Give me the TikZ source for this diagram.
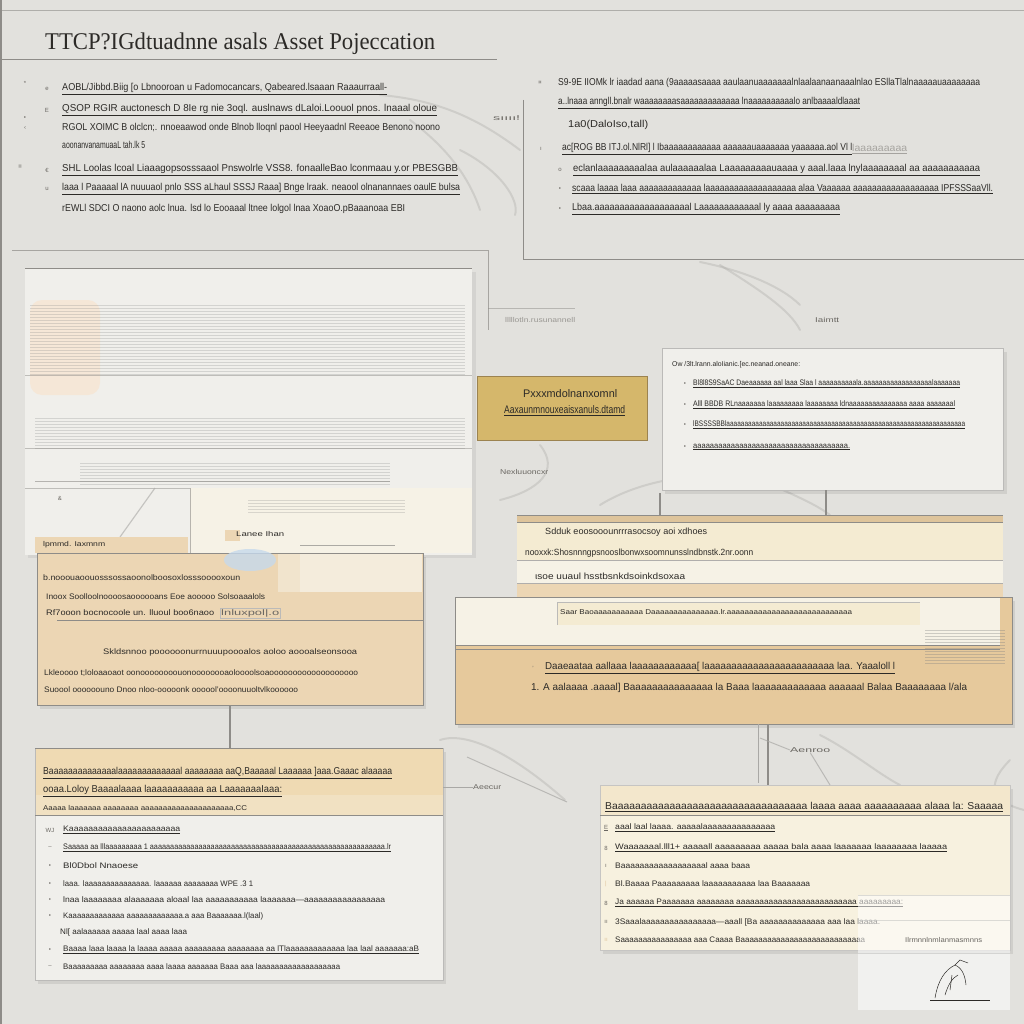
\documentclass[tikz,border=0pt]{standalone}
\usepackage{fontspec}
\setmainfont{Liberation Sans}
\newfontfamily\titlefont{Liberation Serif}
\usepackage{graphicx}
\definecolor{bg}{HTML}{E2E1DD}
\definecolor{ink}{HTML}{2C2A27}
\definecolor{inkl}{HTML}{6A6762}
\definecolor{frame}{HTML}{8E8C88}
\definecolor{panel}{HTML}{F0EFEB}
\definecolor{tanA}{HTML}{ECD6B4}
\definecolor{tanB}{HTML}{E6C99C}
\definecolor{tanC}{HTML}{DEC49B}
\definecolor{tanH}{HTML}{EFDAB3}
\definecolor{gold}{HTML}{D5B76B}
\definecolor{goldline}{HTML}{9C8350}
\definecolor{cream}{HTML}{F4EBD2}
\definecolor{creamB}{HTML}{F6F2E6}
\definecolor{swoosh}{HTML}{A9A8A5}
\definecolor{skyb}{HTML}{C6D9EC}
\newcommand\fitw[2]{\resizebox{#1pt}{\height}{#2}}
\tikzset{
  txt/.style={anchor=west,inner sep=0,font=\fontsize{10}{11}\selectfont,text=ink},
  ltxt/.style={anchor=west,inner sep=0,font=\fontsize{7}{8}\selectfont,text=inkl},
  bul/.style={anchor=center,inner sep=0,font=\fontsize{6}{6}\selectfont,text=inkl},
  boxn/.style={anchor=north west,inner sep=0,outer sep=0},
  conn/.style={draw=frame,line width=1.2pt},
  connl/.style={draw=swoosh,line width=1pt},
  swo/.style={draw=swoosh,line width=2pt,opacity=0.35,line cap=round},
  stripe/.style={draw=gray,line width=0.3pt,opacity=0.25}
}
\begin{document}
\begin{tikzpicture}[x=1pt,y=-1pt]
\useasboundingbox (0,0) rectangle (1024,1024);
\fill[bg] (0,0) rectangle (1024,1024);
% page frame
\draw[frame,line width=0.6pt,opacity=0.6] (0,10) -- (1024,10);
\draw[frame,line width=2pt] (1,0) -- (1,1024);
% title
\node[anchor=west,inner sep=0,font=\titlefont\fontsize{24}{26}\selectfont,text=ink] (title) at (45,44) {\fitw{390}{TTCP?IGdtuadnne asals Asset Pojeccation}};
\draw[frame,line width=1pt] (0,60) -- (497,60);
% decorative swooshes
\draw[swo] (380,95) .. controls (440,100) and (480,120) .. (520,150);
\draw[swo] (410,120) .. controls (450,150) and (470,180) .. (480,210);
\draw[swo] (460,150) .. controls (500,170) and (520,200) .. (515,215);
\draw[swo] (700,262) .. controls (740,270) and (780,285) .. (800,305);
\draw[swo] (720,265) .. controls (760,290) and (790,310) .. (800,330);
\draw[swo] (540,445) .. controls (560,470) and (540,490) .. (500,500);
\draw[swo] (600,505) .. controls (640,480) and (700,470) .. (760,478);
\draw[swo] (740,470) .. controls (780,490) and (810,500) .. (830,515);
\draw[swo] (440,740) .. controls (470,730) and (520,760) .. (565,800);
\draw[swo] (820,735) .. controls (850,750) and (880,775) .. (900,785);
\draw[swo] (1010,760) .. controls (990,780) and (985,800) .. (1024,810);
% top-left list
\node[bul] (bA) at (25,83) {*};
\node[bul] (bB) at (47,89) {e};
\node[bul] (bC) at (25,118) {•};
\node[bul] (bD) at (47,110) {E};
\node[bul] (bE) at (25,128) {‹};
\node[bul] (bF) at (20,167) {≡};
\node[bul] (bG) at (47,170) {€};
\node[bul] (bH) at (47,189) {u};
\node[txt] (tl1) at (62,89) {\fitw{325}{\underline{AOBL/Jibbd.Biig [o Lbnooroan u Fadomocancars, Qabeared.lsaaan Raaaurraall-}}};
\node[txt] (tl2) at (62,110) {\fitw{375}{\underline{QSOP RGIR auctonesch D 8Ie rg nie  3oql. auslnaws dLaloi.Loouol pnos. lnaaal oloue}}};
\node[txt] (tl3) at (62,128) {\fitw{378}{RGOL XOIMC B olclcn;. nnoeaawod onde  Blnob lloqnl paool Heeyaadnl Reeaoe Benono  noono}};
\node[txt] (tl4) at (62,145) {\fitw{83}{aoonanvanamuaaL tah.lk 5}};
\node[txt] (tl5) at (62,170) {\fitw{396}{\underline{SHL Loolas lcoal Liaaagopsosssaaol Pnswolrle VSS8. fonaalleBao lconmaau y.or PBESGBB}}};
\node[txt] (tl6) at (62,189) {\fitw{398}{\underline{laaa l Paaaaal lA nuuuaol pnlo SSS aLhaul  SSSJ Raaa] Bnge lraak. neaool olnanannaes oaulE bulsa}}};
\node[txt] (tl7) at (62,209) {\fitw{343}{rEWLl SDCI O naono aolc lnua. lsd lo Eooaaal ltnee lolgol lnaa XoaoO.pBaaanoaa EBI}};
% top-right box
\node[boxn,minimum width=501pt,minimum height=159pt] (trbox) at (523,100) {};
\draw[frame,line width=0.8pt] (trbox.north west) -- (trbox.south west) -- (trbox.south east);
\node[ltxt] (lbl1) at (493,118) {\fitw{27}{sıııı!}};
\node[bul] (rb1) at (540,83) {¤};
\node[bul] (rb2) at (541,149) {ı};
\node[bul] (rb3) at (560,170) {o};
\node[bul] (rb4) at (560,189) {•};
\node[bul] (rb5) at (560,209) {•};
\node[txt] (tr1) at (558,83) {\fitw{422}{S9-9E IIOMk lr iaadad aana (9aaaaasaaaa aaulaanuaaaaaaalnlaalaanaanaaalnlao ESllaTlalnaaaaauaaaaaaaa}};
\node[txt] (tr2) at (558,103) {\fitw{302}{\underline{a..lnaaa anngll.bnalr waaaaaaaasaaaaaaaaaaaaa lnaaaaaaaaaalo anlbaaaaldlaaat}}};
\node[txt] (tr3) at (568,125) {\fitw{80}{1a0(DaloIso,tall)}};
\node[txt] (tr4) at (562,149) {\fitw{290}{\underline{ac[ROG BB ITJ.ol.NlRl] l Ibaaaaaaaaaaaa aaaaaauaaaaaaa yaaaaaa.aol Vl l}}};
\node[txt,text=inkl,opacity=0.5] (tr4b) at (852,149) {\fitw{55}{\underline{laaaaaaaaa}}};
\node[txt] (tr5) at (573,170) {\fitw{407}{\underline{eclanlaaaaaaaaalaa aulaaaaaalaa Laaaaaaaaauaaaa y aaal.laaa lnylaaaaaaaal aa aaaaaaaaaaa}}};
\node[txt] (tr6) at (572,189) {\fitw{421}{\underline{scaaa laaaa laaa  aaaaaaaaaaaaa laaaaaaaaaaaaaaaaaaa alaa Vaaaaaa aaaaaaaaaaaaaaaaaa IPFSSSaaVll.}}};
\node[txt] (tr7) at (572,209) {\fitw{268}{\underline{Lbaa.aaaaaaaaaaaaaaaaaaal Laaaaaaaaaaaal ly aaaa aaaaaaaaa}}};
% large left panel
\draw[frame,line width=0.8pt,opacity=0.7] (12,250) -- (488,250) -- (488,330);
\draw[frame,line width=0.5pt,opacity=0.5] (488,308) -- (575,308);
\node[ltxt,opacity=0.6] (lbl2) at (505,320) {\fitw{70}{lllllotln.rusunannell}};
\fill[black,opacity=0.06] (28,272) rectangle (476,558);
\node[boxn,fill=panel,minimum width=447pt,minimum height=287pt] (lpanel) at (25,268) {};
\draw[frame,line width=0.8pt] (lpanel.north west) -- (lpanel.north east);
\fill[orange!30!white,opacity=0.35,rounded corners=12pt] (30,300) rectangle (100,395);
\foreach \yy in {305,308,...,374} {\draw[stripe] (30,\yy) -- (465,\yy);}
\draw[frame,line width=0.4pt,opacity=0.5] (25,375) -- (472,375);
\foreach \yy in {418,421,...,448} {\draw[stripe] (35,\yy) -- (465,\yy);}
\draw[frame,line width=0.4pt,opacity=0.5] (25,448) -- (472,448);
\foreach \yy in {463,466,...,484} {\draw[stripe] (80,\yy) -- (390,\yy);}
\draw[frame,line width=0.8pt,opacity=0.6] (35,481) -- (390,481);
\draw[frame,line width=0.4pt,opacity=0.5] (25,488) -- (465,488);
\draw[swoosh,line width=1.2pt,opacity=0.6] (155,488) -- (120,537);
\node[bul] (lb0) at (60,498) {\&};
% sub area at bottom of left panel
\fill[tanA] (35,537) rectangle (188,553);
\node[txt,font=\fontsize{7}{8}\selectfont] (lbl3) at (43,545) {\fitw{62}{lpmmd. Iaxmnm}};
\node[boxn,fill=creamB,minimum width=282pt,minimum height=65pt] (card1) at (190,488) {};
\draw[frame,line width=0.5pt,opacity=0.6] (card1.north west) -- (card1.south west);
\foreach \yy in {500,503,...,512} {\draw[stripe] (248,\yy) -- (405,\yy);}
\fill[tanA] (225,530) rectangle (240,541);
\node[txt,font=\fontsize{7}{8}\selectfont] (lbl4) at (236,534) {\fitw{48}{Lanee Ihan}};
\draw[frame,line width=0.8pt,opacity=0.7] (300,545) -- (395,545);
% center gold box
\node[boxn,fill=gold,draw=goldline,line width=1pt,minimum width=170pt,minimum height=64pt] (gold) at (477,376) {};
\node[txt,font=\fontsize{11}{12}\selectfont] (g1) at (523,394) {\fitw{94}{Pxxxmdolnanxomnl}};
\node[txt,font=\fontsize{11}{12}\selectfont] (g2) at (504,411) {\fitw{121}{\underline{Aaxaunmnouxeaisxanuls.dtamd}}};
\node[ltxt] (lbl5) at (500,472) {\fitw{48}{Nexluuoncxr}};
\node[ltxt] (lbl6) at (815,320) {\fitw{24}{Iaimtt}};
% right upper box
\fill[black,opacity=0.08] (665,352) rectangle (1007,494);
\node[boxn,fill=panel,draw=frame!60,line width=0.6pt,minimum width=341pt,minimum height=142pt] (rbox) at (662,348) {};
\node[txt,font=\fontsize{7}{8}\selectfont] (r0) at (672,365) {\fitw{128}{Ow /3lt.lrann.aloIianic.[ec.neanad.oneane:}};
\node[bul] (rb6) at (685,384) {•};
\node[bul] (rb7) at (685,405) {•};
\node[bul] (rb8) at (685,425) {•};
\node[bul] (rb9) at (685,447) {•};
\node[txt,font=\fontsize{8}{9}\selectfont] (r1) at (693,384) {\fitw{267}{\underline{Bl8l8S9SaAC Daeaaaaaa aal laaa  Slaa l aaaaaaaaaala.aaaaaaaaaaaaaaaaaalaaaaaaa}}};
\node[txt,font=\fontsize{8}{9}\selectfont] (r2) at (693,405) {\fitw{262}{\underline{Alll BBDB  RLnaaaaaaa  laaaaaaaaa laaaaaaaa ldnaaaaaaaaaaaaaaa aaaa aaaaaaal}}};
\node[txt,font=\fontsize{8}{9}\selectfont] (r3) at (693,425) {\fitw{272}{\underline{lBSSSSBBlaaaaaaaaaaaaaaaaaaaaaaaaaaaaaaaaaaaaaaaaaaaaaaaaaaaaaaaaaaaaaaaaaa}}};
\node[txt,font=\fontsize{8}{9}\selectfont] (r4) at (693,447) {\fitw{157}{\underline{aaaaaaaaaaaaaaaaaaaaaaaaaaaaaaaaaaaaa.}}};
% stacked box
\node[boxn,minimum width=486pt,minimum height=82pt] (stack) at (517,515) {};
\fill[tanC] (517,515) rectangle (1003,522);
\fill[cream] (517,522) rectangle (1003,560);
\fill[creamB] (517,560) rectangle (1003,583);
\fill[tanA] (517,583) rectangle (1003,597);
\draw[frame,line width=0.6pt] (517,515) -- (1003,515);
\draw[frame,line width=0.6pt] (517,522) -- (1003,522);
\draw[frame!70,line width=0.4pt] (517,560) -- (1003,560);
\draw[frame!70,line width=0.4pt] (517,583) -- (1003,583);
\node[txt,font=\fontsize{9}{10}\selectfont] (s1) at (545,532) {\fitw{162}{Sdduk eoosooounrrrasocsoy aoi xdhoes}};
\node[txt,font=\fontsize{9}{10}\selectfont] (s2) at (525,553) {\fitw{228}{nooxxk:Shosnnngpsnooslbonwxsoomnunsslndbnstk.2nr.oonn}};
\node[txt,font=\fontsize{9}{10}\selectfont] (s3) at (535,576) {\fitw{150}{ιsoe   uuaul hsstbsnkdsoinkdsoxaa}};
% big tan box
\fill[black,opacity=0.08] (458,601) rectangle (1015,728);
\node[boxn,fill=tanB,draw=frame,line width=0.8pt,minimum width=557pt,minimum height=127pt] (bigtan) at (455,597) {};
\fill[creamB] (456,598) rectangle (1000,645);
\fill[cream] (557,602) rectangle (920,625);
\draw[frame!60,line width=0.4pt] (557,625) -- (557,602) -- (920,602);
\node[txt,font=\fontsize{7}{8}\selectfont] (b0) at (560,612) {\fitw{292}{Saar Baoaaaaaaaaaaa Daaaaaaaaaaaaaaa.lr.aaaaaaaaaaaaaaaaaaaaaaaaaaaa}};
\draw[frame,line width=0.8pt] (456,645) -- (1000,645);
\draw[frame,line width=0.5pt] (456,649) -- (1000,649);
\foreach \yy in {630,633,...,664} {\draw[stripe,opacity=0.35] (925,\yy) -- (1005,\yy);}
\node[bul] (bb1) at (533,668) {'};
\node[txt] (b1) at (545,668) {\fitw{350}{\underline{Daaeaataa aallaaa laaaaaaaaaaaa[ laaaaaaaaaaaaaaaaaaaaaaaa  laa. Yaaaloll l}}};
\node[txt] (b2) at (531,688) {\fitw{436}{1.  A aalaaaa .aaaal]  Baaaaaaaaaaaaaaa la Baaa laaaaaaaaaaaaa aaaaaal Balaa Baaaaaaaa l/ala}};
% left tan box
\fill[black,opacity=0.08] (40,557) rectangle (426,709);
\node[boxn,fill=tanA,draw=frame,line width=0.8pt,minimum width=386pt,minimum height=152pt] (ltan) at (37,553) {};
\fill[tanA!50!creamB] (278,554) rectangle (340,592);
\fill[creamB!80!tanA] (300,554) rectangle (422,592);
\fill[skyb,opacity=0.8] (250,560) ellipse (26pt and 11pt);
\node[txt,font=\fontsize{8}{9}\selectfont] (l1) at (43,578) {\fitw{197}{b.nooouaoouosssossaoonolboosoxlosssooooxoun}};
\node[txt,font=\fontsize{8}{9}\selectfont] (l2) at (46,597) {\fitw{219}{Inoox Soolloolnoooosaoooooans  Eoe  aooooo Solsoaaalols}};
\node[txt,font=\fontsize{8}{9}\selectfont] (l3) at (46,613) {\fitw{168}{Rf7ooon  bocnocoole  un. lluoul  boo6naoo}};
\node[txt,font=\fontsize{8}{9}\selectfont,draw=frame!60,inner sep=1pt,text=inkl] (l3b) at (220,613) {\fitw{58}{lnluxpol|.o}};
\draw[frame,line width=0.6pt] (57,620) -- (423,620);
\node[txt,font=\fontsize{8}{9}\selectfont] (l4) at (103,652) {\fitw{254}{Skldsnnoo  poooooonurrnuuupoooalos  aoloo  aoooalseonsooa}};
\node[txt,font=\fontsize{8}{9}\selectfont] (l5) at (44,673) {\fitw{314}{Lkleoooo t;loloaaoaot oonoooooooouonoooooooaoloooolsoaooooooooooooooooooo}};
\node[txt,font=\fontsize{8}{9}\selectfont] (l6) at (44,690) {\fitw{254}{Suoool oooooouno Dnoo nloo-ooooonk oooool'oooonuuoltvlkoooooo}};
% bottom-left box
\fill[black,opacity=0.08] (38,752) rectangle (446,984);
\node[boxn,fill=panel,draw=frame!60,line width=0.6pt,minimum width=408pt,minimum height=232pt] (blbox) at (35,748) {};
\fill[tanH] (35.5,748.5) rectangle (442.5,795);
\fill[tanH!70!creamB] (35.5,795) rectangle (442.5,815);
\draw[frame,line width=0.8pt] (35,748) -- (443,748);
\draw[frame,line width=0.8pt] (35,815) -- (443,815);
\node[txt] (h1) at (43,773) {\fitw{349}{\underline{Baaaaaaaaaaaaaalaaaaaaaaaaaaal aaaaaaaa  aaQ,Baaaaal Laaaaaa ]aaa.Gaaac alaaaaa}}};
\node[txt] (h2) at (43,791) {\fitw{239}{\underline{ooaa.Loloy Baaaalaaaa laaaaaaaaaaa aa LaaaaaaaIaaa:}}};
\node[txt,font=\fontsize{7}{8}\selectfont] (h3) at (43,808) {\fitw{204}{Aaaaa laaaaaaa  aaaaaaaa aaaaaaaaaaaaaaaaaaaaa,CC}};
\node[bul] (x1) at (50,830) {WJ};
\node[bul] (x2) at (50,848) {–};
\node[bul] (x3) at (50,866) {•};
\node[bul] (x4) at (50,884) {•};
\node[bul] (x5) at (50,900) {•};
\node[bul] (x6) at (50,916) {•};
\node[bul] (x7) at (50,950) {•};
\node[bul] (x8) at (50,967) {–};
\node[txt,font=\fontsize{8}{9}\selectfont] (p1) at (63,830) {\fitw{117}{\underline{Kaaaaaaaaaaaaaaaaaaaaaaa}}};
\node[txt,font=\fontsize{8}{9}\selectfont] (p2) at (63,848) {\fitw{328}{\underline{Saaaaa aa lllaaaaaaaaa 1 aaaaaaaaaaaaaaaaaaaaaaaaaaaaaaaaaaaaaaaaaaaaaaaaaaaaaaaaaa.lr}}};
\node[txt,font=\fontsize{8}{9}\selectfont] (p3) at (63,866) {\fitw{75}{Bl0Dbol  Nnaoese}};
\node[txt,font=\fontsize{8}{9}\selectfont] (p4) at (63,884) {\fitw{190}{laaa. laaaaaaaaaaaaaaa. laaaaaa aaaaaaaa  WPE  .3 1}};
\node[txt,font=\fontsize{8}{9}\selectfont] (p5) at (63,900) {\fitw{322}{lnaa laaaaaaaa  alaaaaaaa aloaal  laa  aaaaaaaaaaa laaaaaaa---aaaaaaaaaaaaaaaaa}};
\node[txt,font=\fontsize{8}{9}\selectfont] (p6) at (63,916) {\fitw{200}{Kaaaaaaaaaaaaa aaaaaaaaaaaaa.a aaa  Baaaaaaa.l(laal)}};
\node[txt,font=\fontsize{8}{9}\selectfont] (p7) at (60,932) {\fitw{127}{Nl[  aalaaaaaa aaaaa laal aaaa  laaa}};
\node[txt,font=\fontsize{8}{9}\selectfont] (p8) at (63,950) {\fitw{356}{\underline{Baaaa laaa laaaa  la laaaa aaaaa aaaaaaaaa  aaaaaaaa  aa  lTlaaaaaaaaaaaaa  laa laal aaaaaaa:aB}}};
\node[txt,font=\fontsize{8}{9}\selectfont] (p9) at (63,967) {\fitw{277}{Baaaaaaaaa aaaaaaaa aaaa laaaa aaaaaaa  Baaa  aaa laaaaaaaaaaaaaaaaaaa}};
% bottom-right box
\fill[black,opacity=0.08] (603,789) rectangle (1013,954);
\node[boxn,fill=cream!70!white,draw=frame!50,line width=0.5pt,minimum width=410pt,minimum height=165pt] (brbox) at (600,785) {};
\fill[cream!80!tanA] (600.5,785.5) rectangle (1009.5,815);
\draw[frame,line width=0.6pt] (600,815) -- (1010,815);
\node[txt] (q0) at (605,807) {\fitw{398}{\underline{Baaaaaaaaaaaaaaaaaaaaaaaaaaaaaaaaaa laaaa aaaa  aaaaaaaaaa  alaaa la: Saaaaa}}};
\node[bul] (y1) at (606,828) {\underline{E}};
\node[bul] (y2) at (606,848) {8};
\node[bul] (y3) at (606,866) {ı};
\node[bul,text=tanC] (y4) at (606,884) {|};
\node[bul] (y5) at (606,903) {8};
\node[bul] (y6) at (606,922) {ıı};
\node[bul,text=tanC] (y7) at (606,940) {ıı};
\node[txt,font=\fontsize{8}{9}\selectfont] (q1) at (615,828) {\fitw{160}{\underline{aaal laal laaaa. aaaaalaaaaaaaaaaaaaaa}}};
\node[txt,font=\fontsize{8}{9}\selectfont] (q2) at (615,848) {\fitw{332}{\underline{Waaaaaaal.lll1+ aaaaall aaaaaaaaa aaaaa bala  aaaa laaaaaaa laaaaaaaa laaaaa}}};
\node[txt,font=\fontsize{8}{9}\selectfont] (q3) at (615,866) {\fitw{135}{Baaaaaaaaaaaaaaaaaal  aaaa  baaa}};
\node[txt,font=\fontsize{8}{9}\selectfont] (q4) at (615,884) {\fitw{195}{Bl.Baaaa  Paaaaaaaaa  laaaaaaaaaaa  laa  Baaaaaaa}};
\node[txt,font=\fontsize{8}{9}\selectfont] (q5) at (615,903) {\fitw{288}{\underline{Ja aaaaaa  Paaaaaaa  aaaaaaaa  aaaaaaaaaaaaaaaaaaaaaaaaaa aaaaaaaaa:}}};
\node[txt,font=\fontsize{8}{9}\selectfont] (q6) at (615,922) {\fitw{265}{3Saaalaaaaaaaaaaaaaaaa---aaall [Ba aaaaaaaaaaaaaa aaa laa laaaa.}};
\node[txt,font=\fontsize{8}{9}\selectfont] (q7) at (615,940) {\fitw{250}{Saaaaaaaaaaaaaaaa aaa Caaaa Baaaaaaaaaaaaaaaaaaaaaaaaaaaa}};
% overlay sketch card
\fill[white,opacity=0.55] (858,895) rectangle (1010,1010);
\draw[frame!50,line width=0.4pt,opacity=0.6] (858,895) -- (1010,895);
\draw[frame!50,line width=0.4pt,opacity=0.6] (858,920) -- (1010,920);
\draw[frame!50,line width=0.4pt,opacity=0.6] (858,953) -- (1010,953);
\node[ltxt] (k1) at (905,940) {\fitw{77}{Ilrmnnlnmlanmasmnns}};
\draw[ink,line width=0.5pt] (935,998) .. controls (938,980) and (945,970) .. (955,965) .. controls (962,968) and (965,975) .. (966,985);
\draw[ink,line width=0.5pt] (945,995) .. controls (948,985) and (952,978) .. (958,975);
\draw[ink,line width=0.5pt] (955,965) -- (960,960) -- (968,963);
\draw[ink,line width=0.5pt] (950,990) -- (952,975);
\draw[ink,line width=0.5pt] (930,1000) -- (990,1000);
% connectors
\draw[conn] (ltan.south -| 230,0) -- (blbox.north -| 230,0);
\coordinate (cgold) at (660,493);
\draw[conn] (cgold) -- (cgold |- stack.north);
\draw[conn] (rbox.south -| 826,0) -- (stack.north -| 826,0);
\draw[conn] (bigtan.south -| 768,0) -- (brbox.north -| 768,0);
\draw[connl] (bigtan.south -| 758,0) -- (758,783);
\node[ltxt] (lbl7) at (790,750) {\fitw{40}{Aenroo}};
\draw[connl,opacity=0.7] (lbl7.south) -- (830,785);
\draw[connl,opacity=0.7] (760,738) -- (lbl7.west);
\node[ltxt] (lbl8) at (473,787) {\fitw{28}{Aeecur}};
\draw[connl] (blbox.east |- lbl8) -- (lbl8.west);
\draw[connl,opacity=0.7] (467,757) -- (567,802);
\end{tikzpicture}
\end{document}
